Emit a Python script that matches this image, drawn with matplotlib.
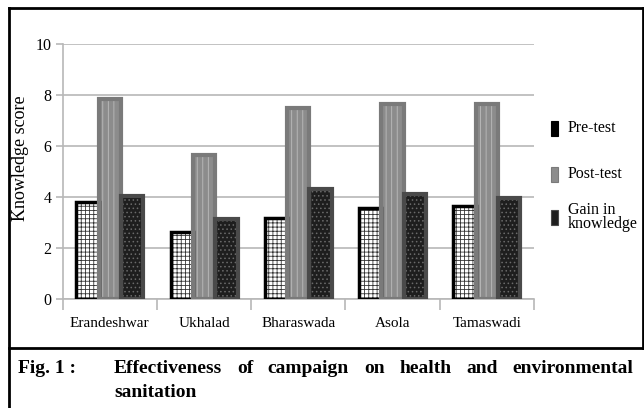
import matplotlib
matplotlib.use("Agg")
import matplotlib.pyplot as plt
from matplotlib.patches import Rectangle
from matplotlib.lines import Line2D
import numpy as np

plt.rcParams['font.family'] = ['Liberation Serif', 'DejaVu Serif']
plt.rcParams['hatch.linewidth'] = 0.6

villages = ["Erandeshwar", "Ukhalad", "Bharaswada", "Asola", "Tamaswadi"]
pre_test = [3.80, 2.65, 3.20, 3.57, 3.65]
post_test = [7.85, 5.66, 7.50, 7.66, 7.66]
gain = [4.05, 3.15, 4.33, 4.13, 3.95]
series_names = ["Pre-test", "Post-test", "Gain in\nknowledge"]
caption_tag = "Fig. 1 :"
caption_line1 = "Effectiveness of campaign on health and environmental"
caption_line2 = "sanitation"

styles = [
    dict(face="white", hatch="++++", hatch_col="#333333", edge="black", lw=2.5),
    dict(face="#8c8c8c", hatch="|||", hatch_col="#bdbdbd", edge="#7a7a7a", lw=3.0),
    dict(face="#1e1e1e", hatch="....", hatch_col="#6a6a6a", edge="#4a4a4a", lw=3.0),
]

W, H = 644, 408
fig = plt.figure(figsize=(W / 100, H / 100), dpi=100)
ax = fig.add_axes([0.0974, 0.2664, 0.7316, 0.6256])

x = np.arange(len(villages))
width = 0.237
for i, (vals, st) in enumerate(zip([pre_test, post_test, gain], styles)):
    pos = x + (i - 1) * width
    ax.bar(pos, vals, width, color=st["face"], hatch=st["hatch"],
           edgecolor=st["hatch_col"], linewidth=0, zorder=3)
    ax.bar(pos, vals, width, fill=False, edgecolor=st["edge"],
           linewidth=st["lw"], zorder=4)

ax.set_xlim(-0.5, len(villages) - 0.5)
ax.set_ylim(0, 10)
ax.set_yticks(np.arange(0, 11, 2))
ax.yaxis.grid(True, color="#b8b8b8", linewidth=1.2, zorder=0)
ax.set_axisbelow(True)

# category labels centered, tick marks at category boundaries
ax.set_xticks(x)
ax.set_xticklabels(villages, fontsize=11)
ax.set_xticks(np.arange(-0.5, len(villages)), minor=True)
ax.tick_params(axis="x", which="major", length=0, pad=13)
ax.tick_params(axis="x", which="minor", length=8, color="#b8b8b8", width=1.2)
ax.tick_params(axis="y", length=5, color="#b8b8b8", width=1.2, labelsize=11.5, pad=3)

for side in ["top", "right"]:
    ax.spines[side].set_visible(False)
for side in ["left", "bottom"]:
    ax.spines[side].set_color("#b8b8b8")
    ax.spines[side].set_linewidth(1.2)

ax.set_ylabel("Knowledge score", fontsize=13)
ax.yaxis.set_label_coords(-0.071, 0.552)

# legend: small swatches with labels on the right
legend_rows = [128, 174, 217]
for name, st, yc in zip(series_names, styles, legend_rows):
    sw_h = 15
    face = "black" if st["face"] == "white" else st["face"]
    fig.add_artist(Rectangle((551 / W, 1 - (yc + sw_h / 2) / H), 7 / W, sw_h / H,
                             transform=fig.transFigure, facecolor=face,
                             edgecolor=st["edge"], linewidth=0.8,
                             hatch="|" if st["face"] == "white" else None))
    fig.text(568 / W, 1 - yc / H, name, fontsize=11.5, va="center", ha="left",
             linespacing=0.9)

# frame around the figure and the caption separator
line_kw = dict(transform=fig.transFigure, color="black", linewidth=2)
sep_y = 348
fig.add_artist(Line2D([9 / W, 9 / W], [0, 1 - 8 / H], **line_kw))
fig.add_artist(Line2D([9 / W, 643 / W], [1 - 8 / H, 1 - 8 / H], **line_kw))
fig.add_artist(Line2D([643 / W, 643 / W], [1 - 8 / H, 1 - sep_y / H], **line_kw))
fig.add_artist(Line2D([9 / W, 643 / W], [1 - sep_y / H, 1 - sep_y / H], **line_kw))

cap_kw = dict(fontsize=14, fontweight="bold", va="baseline")
fig.text(18 / W, 1 - 373 / H, caption_tag, **cap_kw)
fig.text(114 / W, 1 - 397 / H, caption_line2, **cap_kw)

# justified first caption line
words = caption_line1.split()
renderer = fig.canvas.get_renderer()
word_texts = [fig.text(0, 1 - 373 / H, w, **cap_kw) for w in words]
widths = [t.get_window_extent(renderer).width for t in word_texts]
x0, x1 = 114, 633
gap = (x1 - x0 - sum(widths)) / (len(words) - 1)
xpos = x0
for t, w in zip(word_texts, widths):
    t.set_x(xpos / W)
    xpos += w + gap

fig.savefig("out.png", dpi=100)
